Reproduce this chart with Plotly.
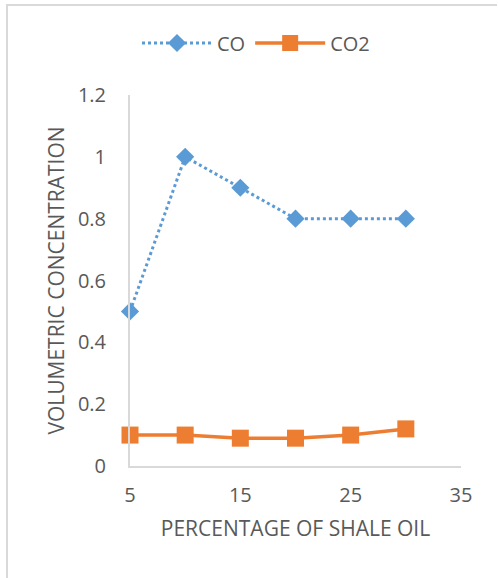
import plotly.graph_objects as go

# Shale oil share (%) and measured gas concentrations
shale_pct = [5, 10, 15, 20, 25, 30]
co_conc = [0.5, 1.0, 0.9, 0.8, 0.8, 0.8]
co2_conc = [0.10, 0.10, 0.09, 0.09, 0.10, 0.12]

x_ticks = [5, 15, 25, 35]
y_ticks = [0, 0.2, 0.4, 0.6, 0.8, 1.0, 1.2]
y_tick_text = ["0", "0.2", "0.4", "0.6", "0.8", "1", "1.2"]

W, H = 498, 578
L, R, T, B = 130, 37, 95, 112
FONT = "Open Sans"
TXT = "#595959"
GRID = "#d9d9d9"

fig = go.Figure()
fig.add_trace(go.Scatter(
    x=shale_pct, y=co_conc, name="CO", mode="lines+markers", cliponaxis=False,
    line=dict(color="#5B9BD5", width=3, dash="dot"),
    marker=dict(symbol="diamond", size=14, color="#5B9BD5"),
))
fig.add_trace(go.Scatter(
    x=shale_pct, y=co2_conc, name="CO2", mode="lines+markers", cliponaxis=False,
    line=dict(color="#ED7D31", width=3.5),
    marker=dict(symbol="square", size=17, color="#ED7D31"),
))

pw = W - L - R
ph = H - T - B


def px_x(p):
    return (p - L) / pw


def px_y(p):
    return (H - B - p) / ph


# chart-area frame (top and left edges)
fig.add_shape(type="line", xref="paper", yref="paper",
              x0=px_x(6), x1=px_x(497), y0=px_y(5), y1=px_y(5),
              line=dict(color=GRID, width=2))
fig.add_shape(type="line", xref="paper", yref="paper",
              x0=px_x(7), x1=px_x(7), y0=px_y(4), y1=px_y(580),
              line=dict(color=GRID, width=2))

fig.update_layout(
    width=W, height=H,
    margin=dict(l=L, r=R, t=T, b=B),
    paper_bgcolor="white", plot_bgcolor="white",
    font=dict(family=FONT, color=TXT, size=20),
    showlegend=True,
    legend=dict(orientation="h", x=px_x(256), xanchor="center", y=px_y(43), yanchor="middle",
                font=dict(size=20, color=TXT), itemwidth=70),
    xaxis=dict(range=[5, 35], tickvals=x_ticks, showgrid=False, zeroline=False,
               showline=True, linecolor=GRID, linewidth=2, ticks="",
               ticklabelstandoff=10, tickfont=dict(size=20),
               title=dict(text="PERCENTAGE OF SHALE OIL", standoff=14,
                          font=dict(size=21, color=TXT))),
    yaxis=dict(range=[0, 1.2], tickvals=y_ticks, ticktext=y_tick_text,
               showgrid=False, zeroline=False,
               showline=True, linecolor=GRID, linewidth=2, ticks="",
               ticklabelstandoff=18, tickfont=dict(size=20),
               title=dict(text="VOLUMETRIC CONCENTRATION", standoff=8,
                          font=dict(size=21, color=TXT))),
)

fig.write_html("out.html")
